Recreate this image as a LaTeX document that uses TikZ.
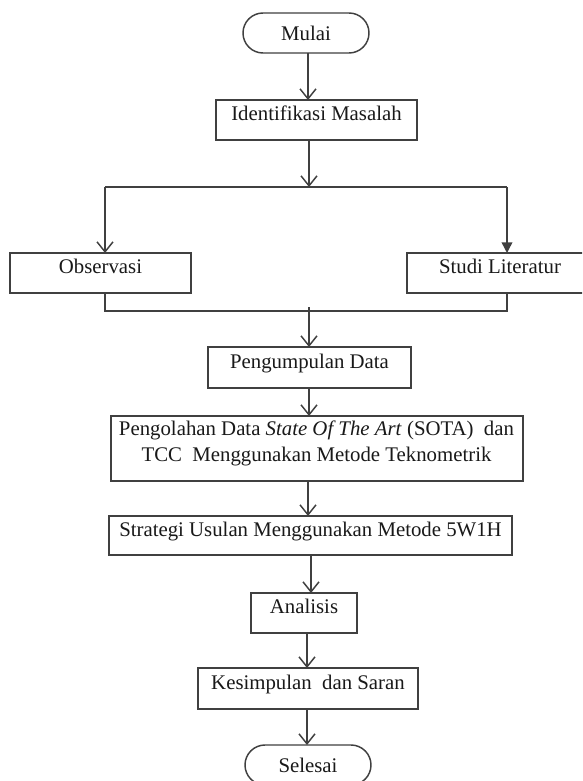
\documentclass[tikz,border=0pt]{standalone}
\usepackage{fontspec}
\setmainfont{Liberation Serif}
\usetikzlibrary{arrows.meta}
\definecolor{ln}{gray}{0.25}
\definecolor{tx}{gray}{0.1}
\begin{document}
\begin{tikzpicture}[x=0.75pt,y=-0.75pt,
  font=\fontsize{15.6}{19}\selectfont,
  every node/.style={inner sep=0pt,outer sep=0pt,text=tx},
  boxnode/.style={draw=ln,line width=1.1pt,rectangle,minimum height=30pt,
     text height=0.75em,text depth=0.67em},
  termnode/.style={draw=ln,line width=1.1pt,rectangle,rounded corners=15pt,
     minimum width=94.5pt,minimum height=30pt},
  conn/.style={draw=ln,line width=1.1pt},
  openarrow/.style={conn,-{Straight Barb[length=7.5pt,width=12pt,line width=1.1pt]}},
  fillarrow/.style={conn,-{Triangle[length=8pt,width=8pt]}}]
\useasboundingbox (0,0) rectangle (582,781);
\clip (0,0) rectangle (582,781);
\fill[white] (0,0) rectangle (582,781);

\node[termnode] (mulai) at (306,33) {Mulai};
\node[boxnode,minimum width=150.75pt] (ident) at (316.5,120) {Identifikasi Masalah};
\node[boxnode,minimum width=135.75pt] (obs) at (100.5,273) {Observasi};
\node[boxnode,minimum width=139.5pt] (studi) at (500,273) {Studi Literatur};
\node[boxnode,minimum width=152.25pt,minimum height=30.75pt] (kumpul) at (309.5,367.5) {Pengumpulan Data};
\node[draw=ln,line width=1.1pt,rectangle,minimum width=309pt,minimum height=48.75pt] (olah) at (317,448.5) {};
\node[align=center] (olahtext) at (316.5,443.5) {Pengolahan Data \textit{State Of The Art} (SOTA)\ \ dan\\TCC\ \ Menggunakan Metode Teknometrik};
\node[boxnode,minimum width=302.25pt,minimum height=29.25pt] (strat) at (310.5,535.5) {Strategi Usulan Menggunakan Metode 5W1H};
\node[boxnode,minimum width=79.5pt] (analisis) at (304,613) {Analisis};
\node[boxnode,minimum width=165pt,minimum height=30.75pt] (simpul) at (308,688.5) {Kesimpulan\ \ dan Saran};
\node[termnode] (selesai) at (308,765) {Selesai};

\coordinate (col) at (309,0);
\coordinate (branch) at (309,187);
\coordinate (bl) at (105,187);
\coordinate (br) at (507,187);
\coordinate (ml) at (105,311);
\coordinate (mr) at (507,311);
\coordinate (mc) at (309,307);

\draw[openarrow] (mulai.south -| 308,0) -- (ident.north -| 308,0);
\draw[openarrow] (ident.south -| col) -- (branch);
\draw[conn] (bl) -- (br);
\draw[openarrow] (bl) -- (obs.north -| bl);
\draw[fillarrow] (br) -- (studi.north -| br);
\draw[conn] (obs.south -| ml) -- (ml) -- (mr) -- (studi.south -| mr);
\draw[openarrow] (mc) -- (kumpul.north -| col);
\draw[openarrow] (kumpul.south -| col) -- (olah.north -| col);
\draw[openarrow] (olah.south -| 308,0) -- (strat.north -| 308,0);
\draw[openarrow] (strat.south -| 311,0) -- (analisis.north -| 311,0);
\draw[openarrow] (analisis.south -| 307,0) -- (simpul.north -| 307,0);
\draw[openarrow] (simpul.south -| 307,0) -- (selesai.north -| 307,0);
\end{tikzpicture}
\end{document}
